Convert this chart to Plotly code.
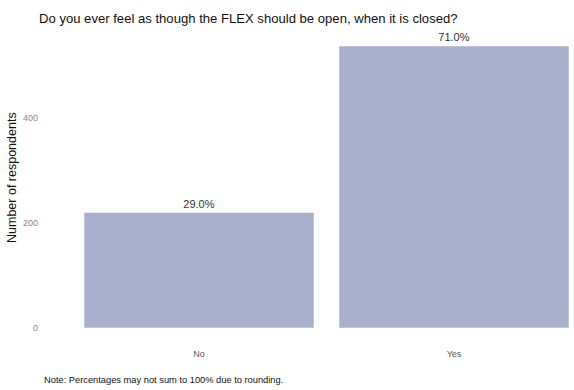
import plotly.graph_objects as go

categories = ["No", "Yes"]
counts = [219, 536]
pct_labels = ["29.0%", "71.0%"]

title = "Do you ever feel as though the FLEX should be open, when it is closed?"
y_title = "Number of respondents"
note = "Note: Percentages may not sum to 100% due to rounding."
y_ticks = [0, 200, 400]

L, R, T, B = 45, 4, 32, 48
W, H = 574, 390

fig = go.Figure(go.Bar(
    x=[0, 1], y=counts, width=0.9,
    marker=dict(color="#A9B0CE", line=dict(width=0)),
    text=pct_labels, textposition="outside", cliponaxis=False,
    textfont=dict(family="Liberation Sans, Arial", size=11, color="#333333"),
))

pw = W - L - R
ph = H - T - B

def px2paper(x, y_top):
    return (x - L) / pw, ((H - y_top) - B) / ph

ann = []
for text, x, y, size, angle, xa in [
    (title, 37, 18, 13.1, 0, "left"),
    (y_title, 12, 178, 12.5, -90, "center"),
    (note, 42, 380, 9.3, 0, "left"),
]:
    px, py = px2paper(x, y)
    ann.append(dict(text=text, x=px, y=py, xref="paper", yref="paper",
                    showarrow=False, textangle=angle,
                    font=dict(size=size, color="#111111"),
                    xanchor=xa, yanchor="middle"))

fig.update_layout(
    width=W, height=H,
    margin=dict(l=L, r=R, t=T, b=B, autoexpand=False),
    paper_bgcolor="white", plot_bgcolor="white",
    showlegend=False,
    font=dict(family="Liberation Sans, Arial", color="#333333"),
    xaxis=dict(
        tickmode="array", tickvals=[0, 1], ticktext=categories,
        range=[-0.604, 1.455], showgrid=False, zeroline=False,
        tickfont=dict(size=9, color="#555555"), ticks="",
        ticklabelstandoff=5,
    ),
    yaxis=dict(
        range=[-27, 563], tickvals=y_ticks, showgrid=False, zeroline=False,
        tickfont=dict(size=9, color="#888888"), ticks="",
        ticklabelstandoff=6,
    ),
    annotations=ann,
)

fig.write_html("out.html", config={"displayModeBar": False},
               post_script="document.body.style.margin='0';document.body.style.padding='0';")
